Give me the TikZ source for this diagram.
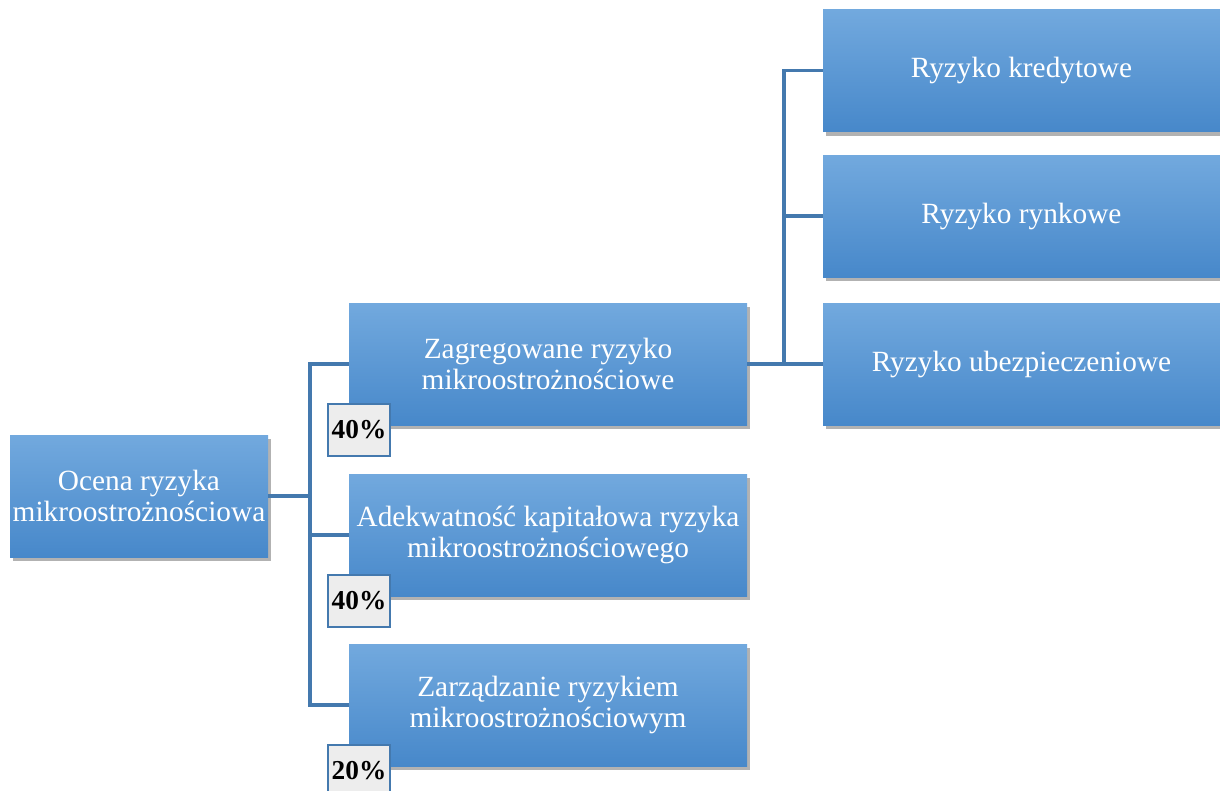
\documentclass[tikz,border=0pt]{standalone}
\usepackage{fontspec}
\setmainfont{Liberation Serif}
\usepackage{tikz}
\usetikzlibrary{shadows}
\definecolor{boxtop}{HTML}{72A9DE}
\definecolor{boxbot}{HTML}{4788CA}
\definecolor{linkblue}{HTML}{4479AE}
\definecolor{pctfill}{HTML}{EDEDED}
\tikzset{
  riskbox/.style={rectangle, top color=boxtop, bottom color=boxbot, text=white,
    align=center, inner sep=2pt, minimum height=91.5pt,
    drop shadow={shadow xshift=2.5pt, shadow yshift=-3pt, fill=black, opacity=0.3},
    font=\fontsize{22}{23}\selectfont},
  pctbox/.style={rectangle, draw=linkblue, line width=1.2pt, fill=pctfill,
    minimum width=46.5pt, minimum height=39pt, inner sep=0pt,
    font=\fontsize{20.5}{21}\selectfont\bfseries},
  link/.style={draw=linkblue, line width=2.3pt}
}
\begin{document}
\begin{tikzpicture}[x=0.75pt,y=-0.75pt]
		\useasboundingbox (0,0) rectangle (1220,790);
		\begin{scope}
		\clip (0,0) rectangle (1220,790);
		\node[riskbox, minimum width=193.5pt] (ocena) at (139,496) {Ocena ryzyka\\mikroostrożnościowa};
		\node[riskbox, minimum width=298.5pt] (zagr) at (548,364) {Zagregowane ryzyko\\mikroostrożnościowe};
		\node[riskbox, minimum width=298.5pt] (adek) at (548,535) {Adekwatność kapitałowa ryzyka\\mikroostrożnościowego};
		\node[riskbox, minimum width=298.5pt] (zarz) at (548,705) {Zarządzanie ryzykiem\\mikroostrożnościowym};
		\node[riskbox, minimum width=297.75pt] (kred) at (1021.5,70.5) {Ryzyko kredytowe};
		\node[riskbox, minimum width=297.75pt] (rynk) at (1021.5,216) {Ryzyko rynkowe};
		\node[riskbox, minimum width=297.75pt] (ubez) at (1021.5,364) {Ryzyko ubezpieczeniowe};
		\coordinate (j1) at (310,496);
		\coordinate (j2) at (784,364);
		\path[link] (ocena.east) -- (j1);
		\path[link] (j1) |- (zagr.west);
		\path[link] (j1) |- (adek.west);
		\path[link] (j1) |- (zarz.west);
		\path[link] (zagr.east) -- (j2);
		\path[link] (j2) |- (kred.west);
		\path[link] (j2) |- (rynk.west);
		\path[link] (j2) |- (ubez.west);
		\node[pctbox] (p1) at (359,430) {40\%};
		\node[pctbox] (p2) at (359,601) {40\%};
		\node[pctbox] (p3) at (359,771) {20\%};
		\end{scope}
	\end{tikzpicture}
\end{document}
